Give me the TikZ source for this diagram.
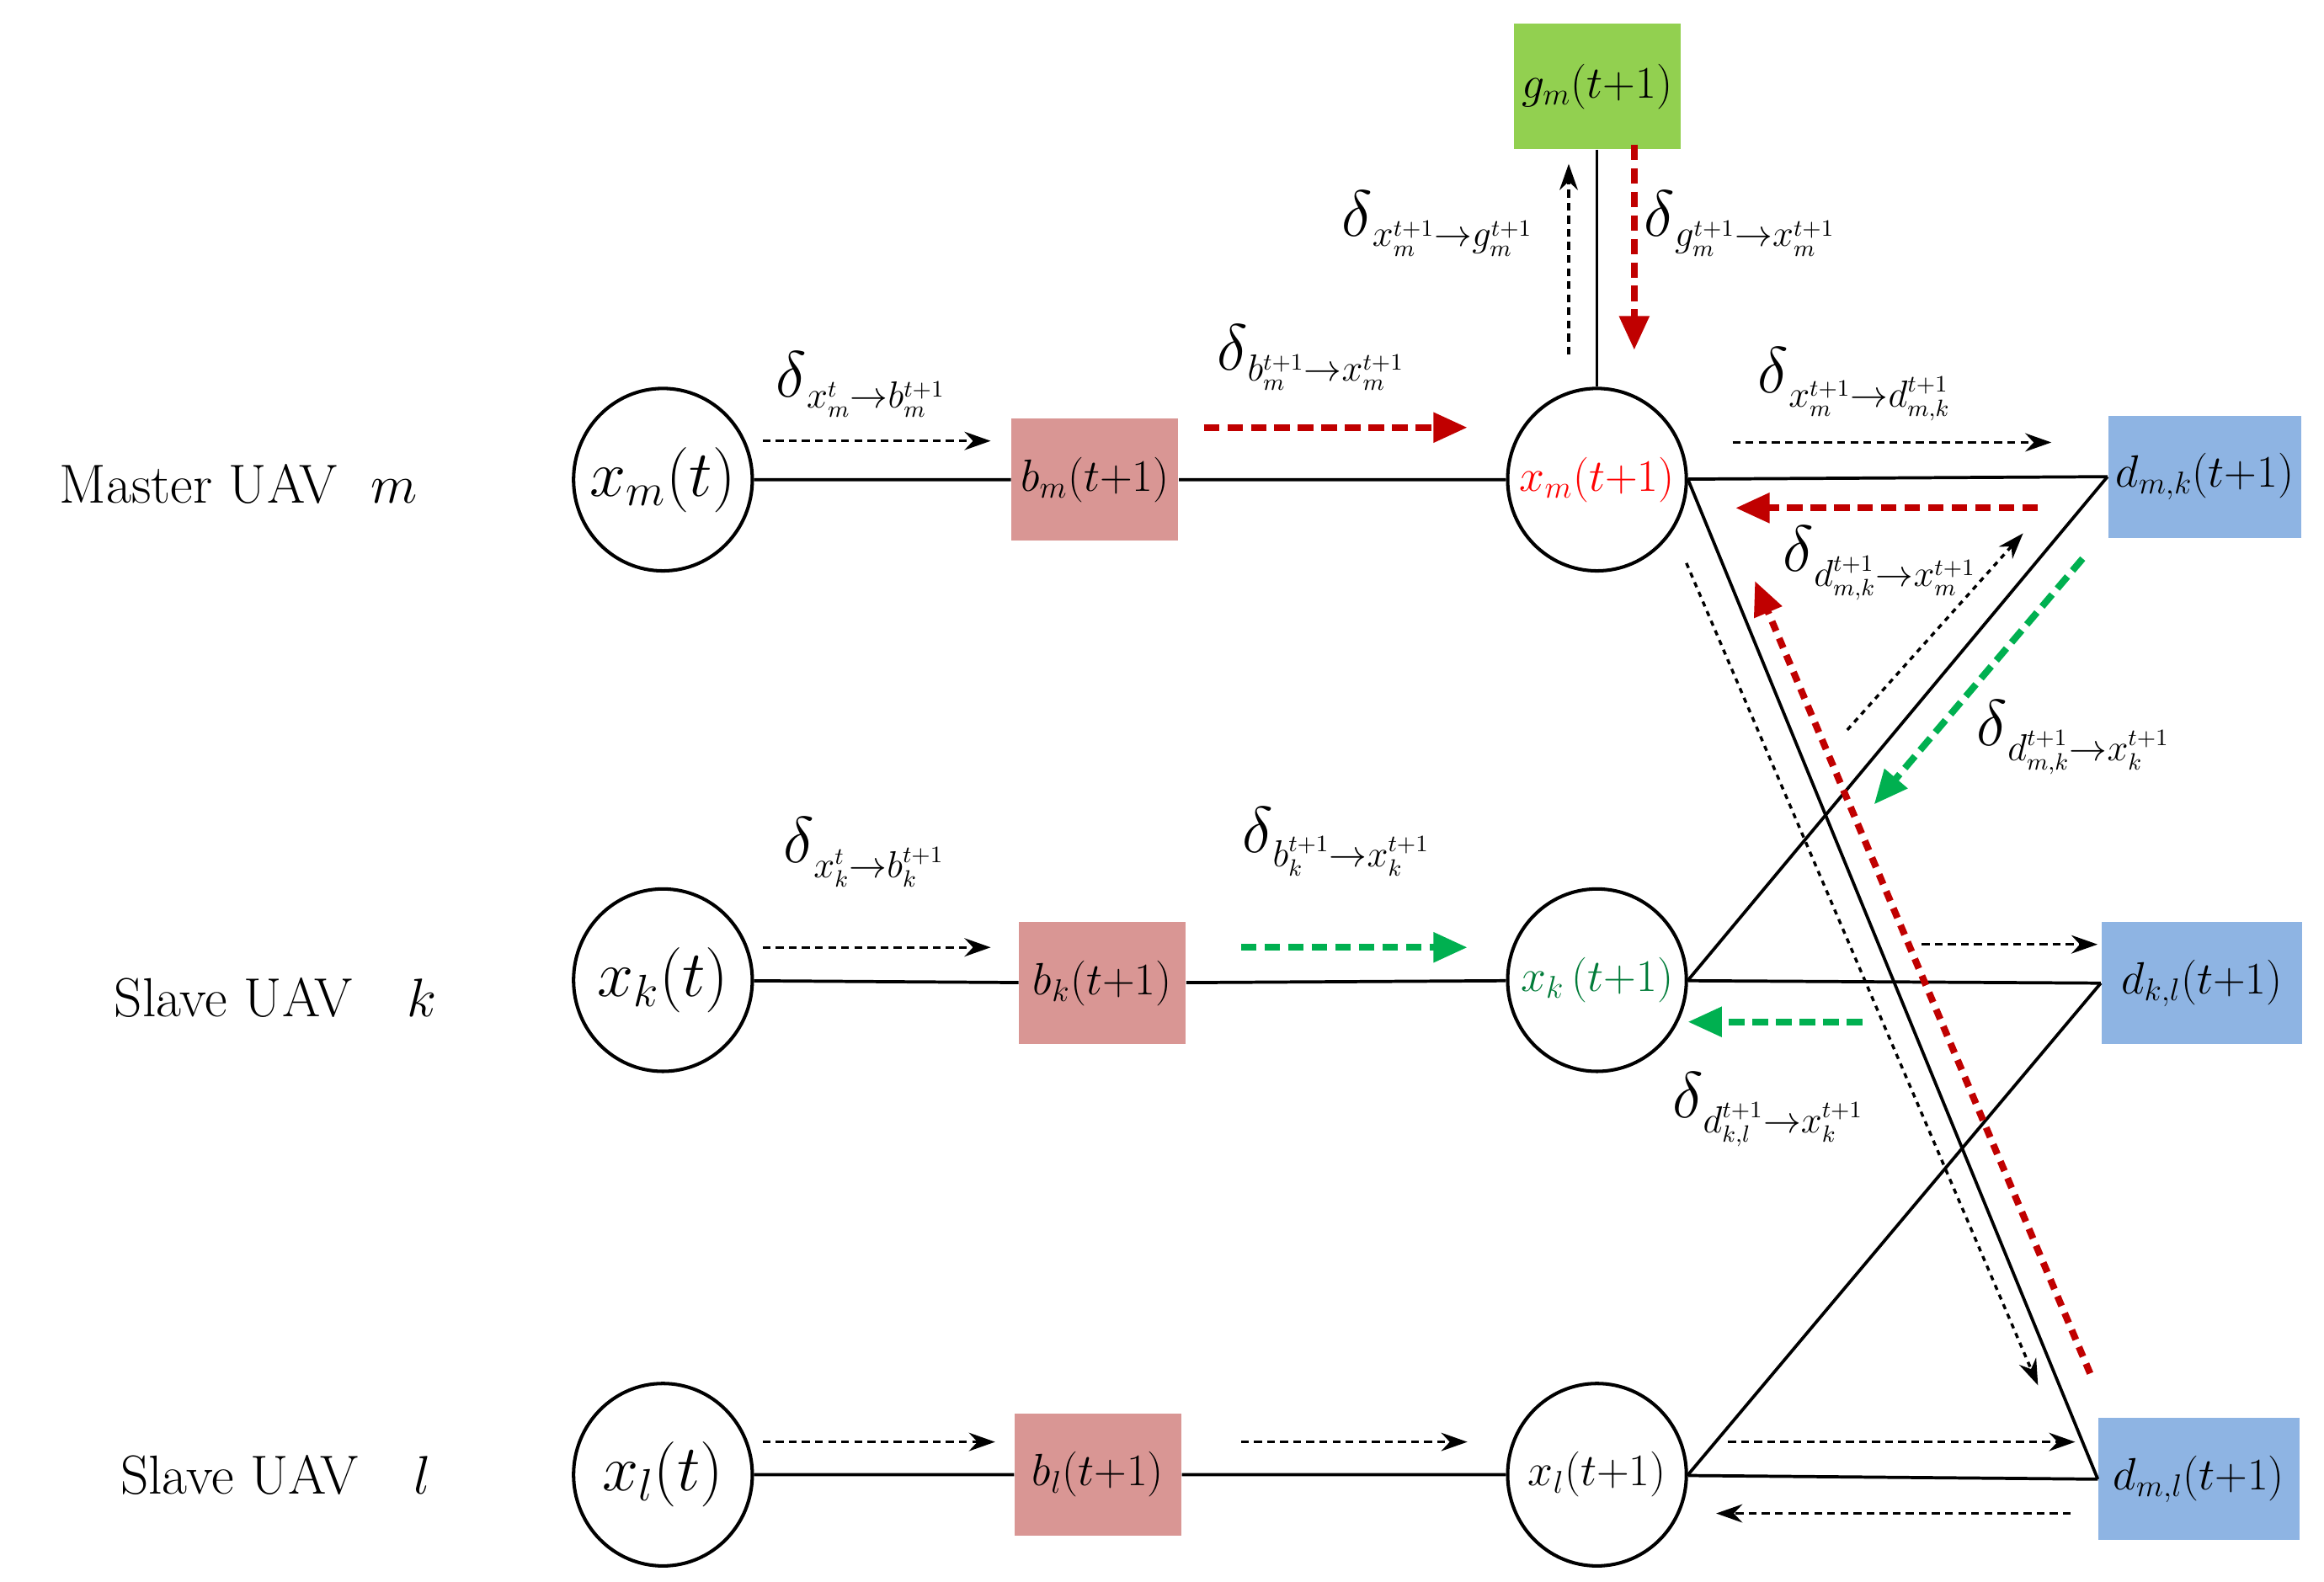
\documentclass[tikz,border=0pt]{standalone}
\usepackage{amsmath}
\usetikzlibrary{arrows.meta,shapes.geometric}
\definecolor{bpink}{HTML}{D99694}
\definecolor{bgreen}{HTML}{92D050}
\definecolor{bblue}{HTML}{8EB4E3}
\definecolor{dred}{HTML}{C00000}
\definecolor{dgreen}{HTML}{00B050}
\newcommand{\zb}[1]{\makebox[0pt][c]{#1}}
\begin{document}
\begin{tikzpicture}[x=0.02cm,y=-0.02cm,
  circ/.style={draw,line width=1.3pt,ellipse,minimum width=2.4cm,minimum height=2.45cm,inner sep=0pt,font=\fontsize{23}{28}\selectfont},
  small/.style={font=\fontsize{18}{22}\selectfont},
  box/.style={minimum width=2.24cm,minimum height=1.64cm,inner sep=0pt,font=\fontsize{18}{22}\selectfont},
  ln/.style={line width=1.2pt},
  bd/.style={-{Stealth[length=10pt,width=7pt]},line width=1.1pt,dash pattern=on 3pt off 2pt},
  rd/.style={-{Triangle[length=13pt,width=11pt]},line width=2.6pt,dash pattern=on 6pt off 3pt,dred},
  gd/.style={-{Triangle[length=13pt,width=11pt]},line width=2.6pt,dash pattern=on 6pt off 3pt,dgreen},
  lab/.style={font=\fontsize{19}{24}\selectfont},
  side/.style={font=\fontsize{21}{25}\selectfont}]
\useasboundingbox (0,0) rectangle (1560,1062);
\newcommand{\D}{\text{\fontsize{30}{30}\selectfont$\delta$}}
% nodes
\node[circ] (xm) at (445,322) {\zb{$x_m(t)$}};
\node[circ] (xk) at (445,658) {\zb{$x_k(t)$}};
\node[circ] (xl) at (445,990) {\zb{$x_l(t)$}};
\node[box,fill=bpink] (bm) at (735,322) {\zb{$b_m(t{+}1)$}};
\node[box,fill=bpink] (bk) at (740,660) {\zb{$b_k(t{+}1)$}};
\node[box,fill=bpink] (bl) at (737,990) {\zb{$b_l(t{+}1)$}};
\node[circ,small,text=red] (xm1) at (1072,322) {\zb{$x_m(t{+}1)$}};
\node[circ,small,text=dgreen!70!black] (xk1) at (1072,658) {\zb{$x_k\,(t{+}1)$}};
\node[circ,small] (xl1) at (1072,990) {\zb{$x_l(t{+}1)$}};
\node[box,fill=bgreen,minimum height=1.68cm] (gm) at (1072,58) {\zb{$g_m(t{+}1)$}};
\node[box,fill=bblue,minimum width=2.6cm] (dmk) at (1480,320) {\zb{$d_{m,k}(t{+}1)$}};
\node[box,fill=bblue,minimum width=2.7cm] (dkl) at (1478,660) {\zb{$d_{k,l}(t{+}1)$}};
\node[box,fill=bblue,minimum width=2.7cm] (dml) at (1476,993) {\zb{$d_{m,l}(t{+}1)$}};
\node[side] (lm) at (160,325) {Master UAV\ \ $m$};
\node[side] (lk) at (185,670) {Slave UAV\quad $k$};
\node[side] (ll) at (185,990) {Slave UAV\quad $l$};
% solid lines
\draw[ln] (xm) -- (bm) -- (xm1) -- (dmk.west);
\draw[ln] (xk) -- (bk) -- (xk1) -- (dkl.west);
\draw[ln] (xl) -- (bl) -- (xl1) -- (dml.west);
\draw[ln] (gm) -- (xm1);
\draw[ln] (xm1.east) -- (dml.west);
\draw[ln] (dmk.west) -- (xk1.east);
\draw[ln] (dkl.west) -- (xl1.east);
% message arrows
\draw[bd] (512,296) -- (665,296);
\node[lab] at (578,258) {$\D_{x_m^{t}\to b_m^{t+1}}$};
\draw[rd] (808,287) -- (985,287);
\node[lab] at (880,240) {$\D_{b_m^{t+1}\to x_m^{t+1}}$};
\draw[bd] (1053,238) -- (1053,110);
\node[lab] at (965,150) {$\D_{x_m^{t+1}\to g_m^{t+1}}$};
\draw[rd] (1097,97) -- (1097,235);
\node[lab] at (1168,150) {$\D_{g_m^{t+1}\to x_m^{t+1}}$};
\draw[bd] (1163,297) -- (1377,297);
\node[lab] at (1245,258) {$\D_{x_m^{t+1}\to d_{m,k}^{t+1}}$};
\draw[rd] (1368,341) -- (1165,341);
\node[lab] at (1262,378) {$\D_{d_{m,k}^{t+1}\to x_m^{t+1}}$};
\draw[bd,dash pattern=on 2pt off 2pt] (1240,490) -- (1358,358);
\draw[gd] (1398,375) -- (1258,540);
\node[lab] at (1392,495) {$\D_{d_{m,k}^{t+1}\to x_k^{t+1}}$};
\draw[rd,dash pattern=on 4pt off 3pt] (1403,922) -- (1178,390);
\draw[bd,dash pattern=on 2pt off 2pt] (1132,378) -- (1368,930);
\draw[bd] (512,636) -- (665,636);
\node[lab] at (580,572) {$\D_{x_k^{t}\to b_k^{t+1}}$};
\draw[gd] (833,636) -- (985,636);
\node[lab] at (897,565) {$\D_{b_k^{t+1}\to x_k^{t+1}}$};
\draw[bd] (1290,634) -- (1408,634);
\draw[gd] (1250,686) -- (1133,686);
\node[lab] at (1187,745) {$\D_{d_{k,l}^{t+1}\to x_k^{t+1}}$};
\draw[bd] (512,968) -- (668,968);
\draw[bd] (833,968) -- (985,968);
\draw[bd] (1160,968) -- (1393,968);
\draw[bd] (1390,1016) -- (1152,1016);
\end{tikzpicture}
\end{document}
